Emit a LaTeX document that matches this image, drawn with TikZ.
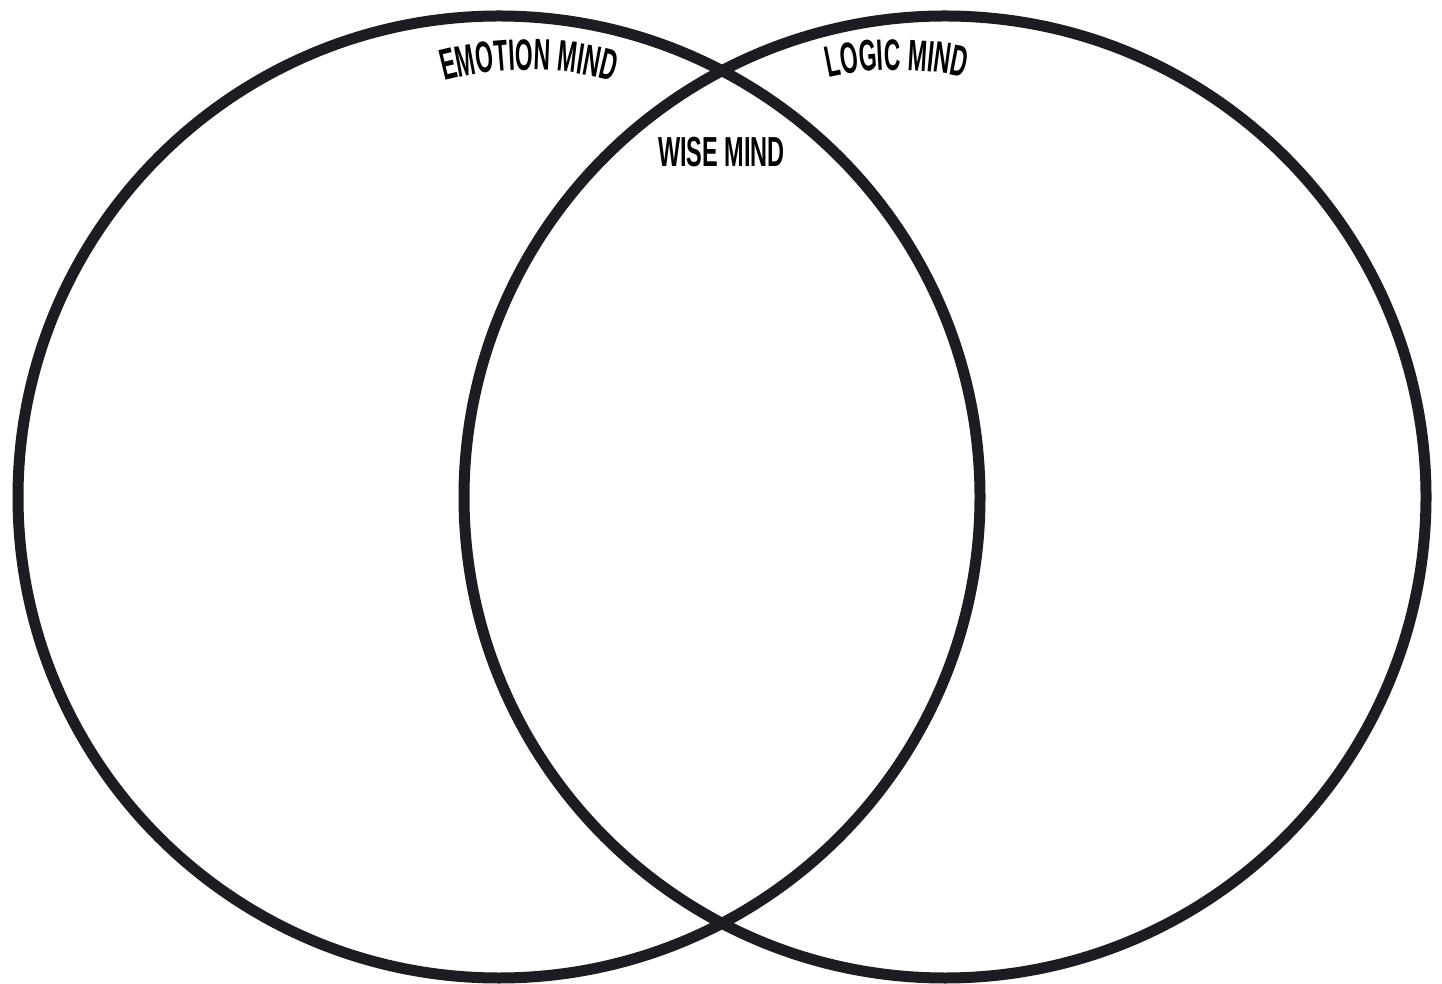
\documentclass[tikz,border=0pt]{standalone}
\usepackage{fontspec}
\usetikzlibrary{decorations.text}
\newfontfamily\mindfont[FakeStretch=0.56]{Liberation Sans Bold}
\newfontfamily\arcfont[FakeStretch=0.52]{Liberation Sans Bold}
\definecolor{ringcol}{RGB}{28,28,34}
\tikzset{
  ring/.style={draw=ringcol, line width=11pt},
  mindlabel/.style={inner sep=0pt, anchor=base, font=\mindfont\fontsize{42}{46}\selectfont},
}
\begin{document}
\begin{tikzpicture}[x=1pt,y=1pt]
\useasboundingbox (0,0) rectangle (1442,983);
\fill[white] (0,0) rectangle (1442,983);
% circles
\draw[ring] (499,486) circle[radius=481];
\draw[ring] (945,486) circle[radius=481];
% curved labels
\path[decorate, decoration={text along path, text align=center,
   text={|\arcfont\fontsize{44}{48}\selectfont|EMOTION MIND}}]
   (529,583) ++(125:330) arc[start angle=125, end angle=55, radius=330];
\path[decorate, decoration={text along path, text align=center,
   text={|\arcfont\fontsize{44}{48}\selectfont|LOGIC MIND}}]
   (897,593) ++(115:320) arc[start angle=115, end angle=65, radius=320];
% centre label
\node[mindlabel] (wise) at (721.5,816) {WISE MIND};
\end{tikzpicture}
\end{document}
